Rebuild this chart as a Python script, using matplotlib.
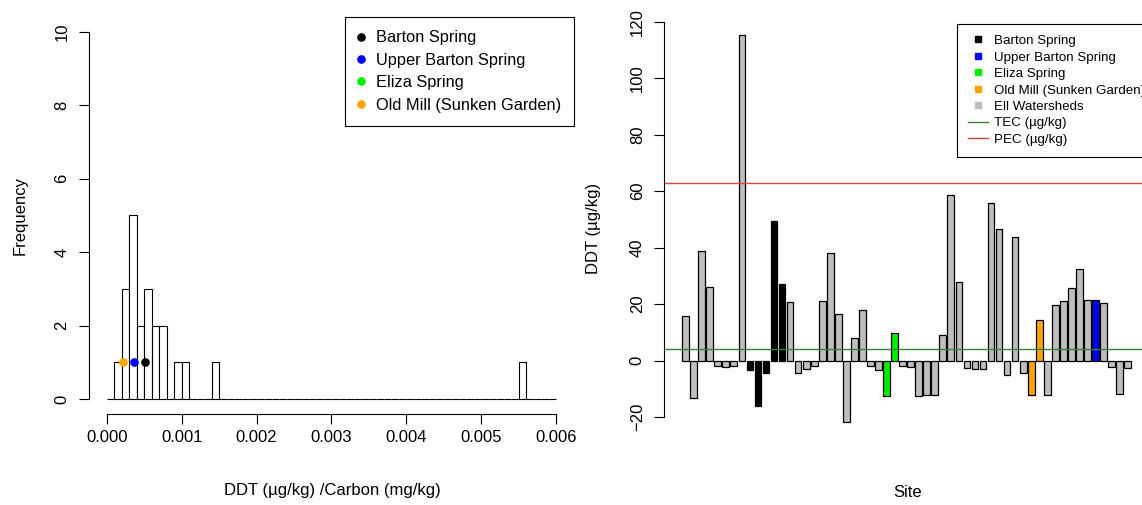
import numpy as np
import matplotlib.pyplot as plt
from matplotlib.lines import Line2D

plt.rcParams['font.family'] = ['Liberation Sans', 'DejaVu Sans']
plt.rcParams['font.size'] = 12

# left panel: DDT / carbon histogram (bins of 0.0001)
bin_left = [0.0001, 0.0002, 0.0003, 0.0004, 0.0005, 0.0006, 0.0007, 0.0009, 0.0010, 0.0014, 0.0055]
bin_count = [1, 3, 5, 2, 3, 2, 2, 1, 1, 1, 1]
bin_width = 0.0001
spring_names = ['Barton Spring', 'Upper Barton Spring', 'Eliza Spring', 'Old Mill (Sunken Garden)']
spring_colors = ['black', 'blue', '#00ee00', 'orange']
spring_ratio = [0.000508, 0.000357, np.nan, 0.000218]  # Eliza not plotted
spring_freq = [1, 1, 1, 1]

# right panel: DDT per site (ug/kg)
site_ddt = [15.9, -13.1, 38.9, 26.2, -1.9, -2.4, -1.9, 115.2, -3.3, -16.0, -4.2, 49.5, 27.0, 20.9,
            -4.5, -2.8, -1.9, 21.2, 38.0, 16.4, -21.6, 8.1, 17.9, -1.9, -3.3, -12.6, 9.7, -1.9, -2.1,
            -12.6, -12.0, -12.2, 9.0, 58.8, 27.7, -2.5, -2.9, -2.9, 55.7, 46.6, -5.0, 43.6, -4.5,
            -12.3, 14.3, -12.3, 19.7, 21.2, 25.8, 32.3, 21.5, 21.5, 20.5, -2.1, -11.9, -2.5]
barton_bars = [8, 9, 10, 11, 12]
upper_barton_bars = [51]
eliza_bars = [25, 26]
old_mill_bars = [43, 44]
tec = 4.16
pec = 62.9

fig = plt.figure(figsize=(11.42, 5.05), dpi=100)

# ---- histogram ----
ax1 = fig.add_axes([0.0779, 0.1808, 0.4247, 0.785])
edges = np.linspace(0, 0.006, 61)
ax1.hist(np.array(bin_left) + bin_width / 2, bins=edges, weights=bin_count,
         facecolor='white', edgecolor='black', linewidth=0.8)
for name, col, xv, yv in zip(spring_names, spring_colors, spring_ratio, spring_freq):
    ax1.plot(xv, yv, 'o', color=col, markersize=5.2, label=name)
ax1.set_xlim(-0.00024, 0.00624)
ax1.set_ylim(-0.4, 10.4)
ax1.set_xticks([0, 0.001, 0.002, 0.003, 0.004, 0.005, 0.006])
ax1.set_xticklabels(['0.000', '0.001', '0.002', '0.003', '0.004', '0.005', '0.006'])
ax1.set_yticks([0, 2, 4, 6, 8, 10])
for s in ['top', 'right']:
    ax1.spines[s].set_visible(False)
ax1.spines['left'].set_bounds(0, 10)
ax1.spines['bottom'].set_bounds(0, 0.006)
ax1.tick_params(length=7, width=0.8, pad=5, labelsize=12)
ax1.tick_params(axis='y', labelrotation=90, pad=7)
plt.setp(ax1.get_yticklabels(), va='center')
ax1.set_xlabel('DDT (µg/kg) /Carbon (mg/kg)')
ax1.xaxis.set_label_coords(0.501, -0.176)
ax1.set_ylabel('Frequency')
ax1.yaxis.set_label_coords(-0.127, 0.5)
h1 = [Line2D([], [], marker='o', ls='none', color=c, markersize=5.2) for c in spring_colors]
ax1.legend(h1, spring_names, loc='upper right', borderaxespad=0, fancybox=False,
           edgecolor='black', framealpha=1, fontsize=11.8, labelspacing=0.45,
           borderpad=0.8, handlelength=0.4, handletextpad=0.7).get_frame().set_linewidth(0.8)

# ---- bar chart ----
ax2 = fig.add_axes([0.5817, 0.1343, 0.4244, 0.8267])
bar_colors = ['#bebebe'] * len(site_ddt)
for i in barton_bars:
    bar_colors[i] = 'black'
for i in upper_barton_bars:
    bar_colors[i] = 'blue'
for i in eliza_bars:
    bar_colors[i] = '#00ee00'
for i in old_mill_bars:
    bar_colors[i] = 'orange'
xpos = 0.7 + 1.2 * np.arange(len(site_ddt))
ax2.bar(xpos, site_ddt, width=1, color=bar_colors, edgecolor='black', linewidth=0.9)
ax2.axhline(tec, color='#3a803a', linewidth=1)
ax2.axhline(pec, color='#d9463f', linewidth=1)
ax2.set_xlim(-2.48, 69.88)
ax2.set_ylim(-27.07, 120.67)
ax2.set_xticks([])
ax2.set_yticks([-20, 0, 20, 40, 60, 80, 100, 120])
for s in ['top', 'right', 'bottom']:
    ax2.spines[s].set_visible(False)
ax2.spines['left'].set_bounds(-20, 120)
ax2.tick_params(axis='y', length=7, width=0.8, pad=7, labelsize=12, labelrotation=90)
plt.setp(ax2.get_yticklabels(), va='center')
ax2.set_xlabel('Site')
ax2.xaxis.set_label_coords(0.503, -0.1145)
ax2.set_ylabel('DDT (µg/kg)')
ax2.yaxis.set_label_coords(-0.1296, 0.5)

h2 = [Line2D([], [], marker='s', ls='none', color=c, markersize=4.2)
      for c in ['black', 'blue', '#00ee00', 'orange', '#bebebe']]
h2 += [Line2D([], [], color='#3a803a', lw=1), Line2D([], [], color='#d9463f', lw=1)]
lab2 = spring_names + ['Ell Watersheds', 'TEC (µg/kg)', 'PEC (µg/kg)']
ax2.legend(h2, lab2, loc='upper right', bbox_to_anchor=(1.015, 0.99), borderaxespad=0,
           fancybox=False, edgecolor='black', framealpha=1, fontsize=9.6, labelspacing=0.31,
           borderpad=0.82, handlelength=1.5, handletextpad=0.45).get_frame().set_linewidth(0.8)

fig.savefig('out.png', dpi=100)
